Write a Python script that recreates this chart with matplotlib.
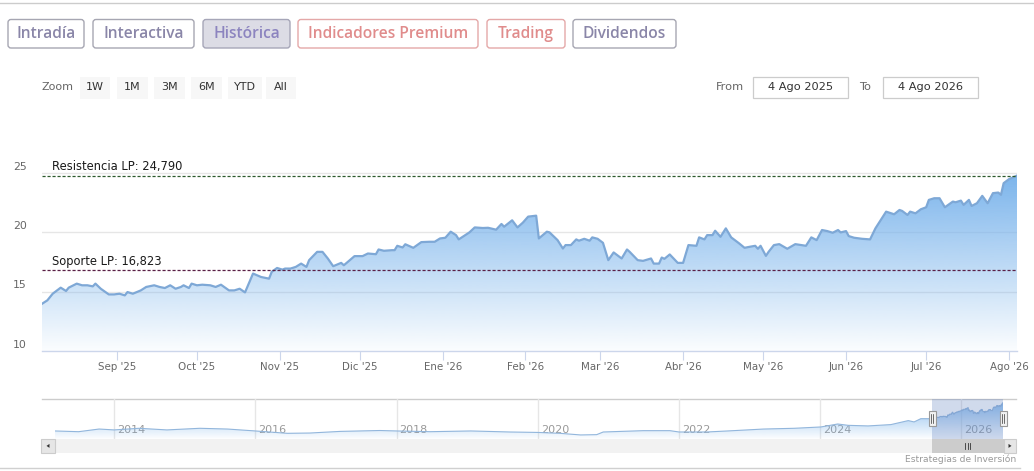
import numpy as np
import pandas as pd
import matplotlib
matplotlib.use("Agg")
import matplotlib.pyplot as plt
import matplotlib.dates as mdates
from matplotlib.patches import FancyBboxPatch, Rectangle, Polygon
from matplotlib.colors import to_rgb

W, H = 1034, 471

# ---------------- data ----------------
START = "2025-08-04"
END = "2026-08-04"
# days since 4 Ago 2025
day_offsets = [
    0, 2, 4, 7, 9, 10, 13, 15, 17, 19,
    20, 22, 25, 27, 29, 31, 32, 34, 37, 39,
    42, 44, 46, 48, 50, 52, 53, 55, 56, 58,
    60, 63, 65, 67, 70, 72, 74, 76, 79, 82,
    85, 86, 88, 90, 91, 93, 95, 97, 99, 100,
    103, 105, 107, 109, 112, 113, 117, 120, 122, 125,
    126, 128, 131, 132, 133, 135, 136, 139, 142, 145,
    147, 149, 151, 153, 155, 156, 160, 162, 165, 167,
    170, 172, 173, 176, 178, 180, 182, 185, 186, 189,
    190, 193, 195, 196, 198, 200, 201, 203, 205, 206,
    208, 210, 212, 214, 217, 219, 220, 223, 225, 228,
    229, 231, 232, 233, 235, 238, 240, 242, 245, 246,
    248, 249, 251, 252, 254, 256, 258, 261, 263, 265,
    267, 268, 269, 271, 272, 274, 276, 279, 282, 286,
    288, 290, 292, 294, 296, 298, 299, 301, 302, 304,
    307, 310, 312, 316, 319, 321, 322, 324, 325, 327,
    329, 331, 332, 334, 336, 338, 341, 342, 344, 345,
    347, 348, 350, 352, 354, 356, 358, 359, 360, 362,
    365,
]
prices = [
    13.98, 14.27, 14.83, 15.34, 15.06, 15.34, 15.68, 15.54, 15.54, 15.45,
    15.68, 15.25, 14.77, 14.77, 14.83, 14.69, 14.97, 14.83, 15.11, 15.40,
    15.54, 15.40, 15.31, 15.54, 15.25, 15.40, 15.54, 15.31, 15.68, 15.54,
    15.59, 15.54, 15.40, 15.59, 15.11, 15.11, 15.25, 14.94, 16.53, 16.24,
    16.10, 16.67, 17.00, 16.86, 16.95, 16.95, 17.09, 17.37, 17.09, 17.66,
    18.36, 18.36, 17.80, 17.15, 17.43, 17.23, 18.00, 18.00, 18.22, 18.16,
    18.56, 18.45, 18.50, 18.50, 18.87, 18.73, 19.00, 18.70, 19.18, 19.21,
    19.21, 19.49, 19.55, 20.06, 19.77, 19.41, 20.00, 20.42, 20.37, 20.39,
    20.23, 20.71, 20.48, 21.02, 20.42, 20.82, 21.33, 21.41, 19.49, 20.06,
    20.00, 19.35, 18.64, 18.93, 18.93, 19.41, 19.30, 19.46, 19.30, 19.58,
    19.46, 19.12, 17.66, 18.31, 17.80, 18.56, 18.36, 17.66, 17.60, 17.80,
    17.37, 17.37, 17.88, 17.77, 18.14, 17.43, 17.43, 18.93, 18.87, 19.58,
    19.41, 19.77, 19.77, 20.14, 19.63, 20.34, 19.58, 19.07, 18.70, 18.79,
    18.87, 18.62, 18.87, 18.02, 18.36, 18.93, 19.01, 18.62, 19.01, 18.87,
    19.58, 19.35, 20.20, 20.11, 19.97, 20.20, 20.00, 20.11, 19.69, 19.55,
    19.46, 19.41, 20.34, 21.75, 21.53, 21.89, 21.81, 21.47, 21.75, 21.61,
    21.95, 22.12, 22.74, 22.88, 22.88, 22.12, 22.60, 22.54, 22.68, 22.32,
    22.74, 22.23, 22.46, 23.08, 22.46, 23.31, 23.36, 23.17, 24.15, 24.49,
    24.79,
]
resistance = 24.790
support = 16.823

hist_dates = [
    "2013-03-01", "2013-07-01", "2013-10-15", "2014-01-01", "2014-05-10",
    "2014-10-01", "2015-03-20", "2015-08-10", "2016-01-01", "2016-06-15",
    "2016-10-10", "2017-03-15", "2017-10-05", "2018-01-01", "2018-06-25",
    "2019-01-20", "2019-08-10", "2020-01-01", "2020-04-25", "2020-08-10",
    "2020-11-01", "2020-12-05", "2021-07-01", "2021-11-15", "2022-01-01",
    "2022-05-25", "2022-09-10", "2023-03-15", "2023-08-20", "2024-01-05",
    "2024-04-01", "2024-05-25", "2024-09-05", "2025-01-01", "2025-04-01",
    "2025-05-01", "2025-06-05",
]
hist_prices = [
    5.7, 5.2, 7.0, 6.4, 7.5, 6.4, 7.5, 7.0, 5.7, 4.1,
    4.3, 5.4, 6.0, 5.7, 5.2, 5.7, 5.0, 4.7, 4.1, 3.0,
    3.2, 5.0, 5.9, 5.9, 5.0, 5.0, 5.7, 7.0, 7.5, 8.4,
    10.4, 9.5, 9.1, 10.0, 12.7, 11.8, 14.0,
]

y_ticks = [10, 15, 20, 25]
month_labels = ["Sep '25", "Oct '25", "Nov '25", "Dic '25", "Ene '26", "Feb '26",
                "Mar '26", "Abr '26", "May '26", "Jun '26", "Jul '26", "Ago '26"]
nav_years = [2014, 2016, 2018, 2020, 2022, 2024, 2026]

tabs = ["Intradía", "Interactiva", "Histórica", "Indicadores Premium", "Trading", "Dividendos"]
zoom_buttons = ["1W", "1M", "3M", "6M", "YTD", "All"]
date_from = "4 Ago 2025"
date_to = "4 Ago 2026"

# ---------------- helpers ----------------
start = pd.Timestamp(START)
main_x = mdates.date2num((start + pd.to_timedelta(day_offsets, unit="D")).to_pydatetime())
main_y = np.array(prices)
x_start = mdates.date2num(start.to_pydatetime())
x_end = mdates.date2num(pd.Timestamp(END).to_pydatetime())

BLUE = "#7cb5ec"


def gradient_area(ax, x, y, base, top, color, amax, amin, zorder):
    poly = ax.fill_between(x, y, base, facecolor="none", edgecolor="none", zorder=zorder)
    path = poly.get_paths()[0]
    rgb = to_rgb(color)
    n = 256
    img = np.zeros((n, 1, 4))
    img[..., 0], img[..., 1], img[..., 2] = rgb
    img[:, 0, 3] = np.linspace(amin, amax, n)
    im = ax.imshow(img, aspect="auto", origin="lower", extent=[x[0], x[-1], base, top],
                   zorder=zorder, interpolation="bilinear")
    im.set_clip_path(path, transform=ax.transData)
    return im


fig = plt.figure(figsize=(W / 100, H / 100), dpi=100)
fig.patch.set_facecolor("white")

# overlay in pixel coordinates
ov = fig.add_axes([0, 0, 1, 1], zorder=0)
ov.set_xlim(0, W)
ov.set_ylim(H, 0)
ov.axis("off")

# top rule
ov.plot([0, W], [3.3, 3.3], color="#cccccc", lw=1)

# tabs
tab_boxes = [(8, 84), (93, 194), (203, 290), (298, 478), (487, 565), (573, 676)]
tab_text = ["#8a86a8", "#8a86a8", "#8c84bf", "#e08c8c", "#e08c8c", "#8a86a8"]
tab_edge = ["#a6a6b2", "#a6a6b2", "#a6a6b8", "#e4a8a8", "#e4a8a8", "#a6a6b2"]
tab_face = ["white", "white", "#dcdce5", "white", "white", "white"]
for lbl, (x0, x1), tc, ec, fc in zip(tabs, tab_boxes, tab_text, tab_edge, tab_face):
    ov.add_patch(FancyBboxPatch((x0, 19.5), x1 - x0, 28.5,
                                boxstyle="round,pad=0,rounding_size=3",
                                fc=fc, ec=ec, lw=1.0))
    ov.text((x0 + x1) / 2, 34.5, lbl, ha="center", va="center", color=tc,
            fontsize=11.2, fontweight="semibold", family="Open Sans")

# zoom row
ov.text(42, 87.5, "Zoom", ha="left", va="center", color="#666666", fontsize=8, family="DejaVu Sans")
zb = [(80, 110), (117, 148), (154, 185), (191, 222), (228, 262), (266, 296)]
for lbl, (x0, x1) in zip(zoom_buttons, zb):
    ov.add_patch(Rectangle((x0, 76.5), x1 - x0, 22, fc="#f7f7f7", ec="none"))
    ov.text((x0 + x1) / 2, 87.5, lbl, ha="center", va="center", color="#333333",
            fontsize=8, family="DejaVu Sans")

# from / to
ov.text(716, 87.5, "From", ha="left", va="center", color="#666666", fontsize=8.2)
ov.add_patch(Rectangle((753, 77), 95, 21, fc="white", ec="#cccccc", lw=0.9))
ov.text(800.5, 87.5, date_from, ha="center", va="center", color="#333333", fontsize=8.2)
ov.text(859, 87.5, "To", ha="left", va="center", color="#666666", fontsize=8.2)
ov.add_patch(Rectangle((883, 77), 95, 21, fc="white", ec="#cccccc", lw=0.9))
ov.text(930.5, 87.5, date_to, ha="center", va="center", color="#333333", fontsize=8.2)

# ---------------- main chart ----------------
Y_BOTTOM, Y_TOP = 10, 26.5
top_px = 351 - (Y_TOP - Y_BOTTOM) * 11.86
ax = fig.add_axes([42 / W, 1 - 351 / H, (1017 - 42) / W, (351 - top_px) / H], zorder=2)
ax.set_facecolor("none")

for v in y_ticks[1:]:
    ax.axhline(v, color="#e6e6e6", lw=1, zorder=1)

gradient_area(ax, main_x, main_y, Y_BOTTOM, main_y.max(), BLUE, 1.0, 0.03, 2)
ax.plot(main_x, main_y, color="#7ea8d6", lw=1.6, zorder=3, solid_joinstyle="round")

ax.axhline(resistance, color="#2d5a2d", lw=0.9, ls=(0, (2.5, 1.5)), zorder=4)
ax.axhline(support, color="#5a1f45", lw=0.9, ls=(0, (2.5, 1.5)), zorder=4)
ax.annotate("Resistencia LP: " + f"{resistance:.3f}".replace(".", ","),
            xy=(0, resistance), xycoords=("axes fraction", "data"),
            xytext=(10, 2.5), textcoords="offset pixels", ha="left", va="bottom",
            fontsize=8.3, color="#1a1a1a")
ax.annotate("Soporte LP: " + f"{support:.3f}".replace(".", ","),
            xy=(0, support), xycoords=("axes fraction", "data"),
            xytext=(10, 2.5), textcoords="offset pixels", ha="left", va="bottom",
            fontsize=8.3, color="#1a1a1a")

for v in y_ticks:
    ax.annotate(str(v), xy=(0, v), xycoords=("axes fraction", "data"),
                xytext=(-15, 6.5), textcoords="offset pixels", ha="right", va="center",
                fontsize=7.8, color="#666666", annotation_clip=False)

ax.set_xlim(x_start, x_end)
ax.set_ylim(Y_BOTTOM, Y_TOP)
month_pos = mdates.date2num(pd.date_range("2025-09-01", periods=len(month_labels), freq="MS").to_pydatetime())
ax.set_xticks(month_pos)
ax.set_xticklabels(month_labels)
ax.set_yticks([])
ax.tick_params(axis="x", length=6.5, width=0.8, color="#ccd6eb", labelsize=7.4,
               labelcolor="#666666", pad=1.5)
for s in ["top", "right", "left"]:
    ax.spines[s].set_visible(False)
ax.spines["bottom"].set_color("#ccd6eb")
ax.spines["bottom"].set_linewidth(1)

# ---------------- navigator ----------------
nav_x = np.concatenate([mdates.date2num(pd.to_datetime(hist_dates).to_pydatetime()), main_x])
nav_y = np.concatenate([np.array(hist_prices), main_y])
NAV_TOP, NAV_BOT = 398.7, 438.5
nav = fig.add_axes([55 / W, 1 - NAV_BOT / H, (1003 - 55) / W, (NAV_BOT - NAV_TOP) / H], zorder=2)
nav.set_facecolor("none")
nav.set_xlim(nav_x[0], nav_x[-1])
nav.set_ylim(0.6, 27.5)
nav.axis("off")

for yr in nav_years:
    xp = mdates.date2num(pd.Timestamp(f"{yr}-01-01").to_pydatetime())
    nav.axvline(xp, color="#e6e6e6", lw=1, zorder=1)
    nav.annotate(str(yr), xy=(xp, 0.21), xycoords=("data", "axes fraction"),
                 xytext=(3, 0), textcoords="offset pixels", ha="left", va="center",
                 fontsize=8.0, color="#999999", zorder=2)

gradient_area(nav, nav_x, nav_y, 0.6, nav_y.max(), BLUE, 0.85, 0.02, 3)
nav.plot(nav_x, nav_y, color="#92b6dc", lw=0.8, zorder=4)
nav.axvspan(x_start, x_end, color=(102 / 255, 133 / 255, 194 / 255), alpha=0.3, lw=0, zorder=5)

fig.canvas.draw()
sel0 = nav.transData.transform((x_start, 0))[0]
sel1 = nav.transData.transform((x_end, 0))[0]

# navigator top border
ov.plot([42, 1016], [NAV_TOP, NAV_TOP], color="#cccccc", lw=1)

# scrollbar
ov.add_patch(Rectangle((41, 438.5), 1016 - 41, 14.8, fc="#f2f2f2", ec="none"))
ov.add_patch(Rectangle((sel0, 438.5), (sel1 + 2) - sel0, 14.8, fc="#cccccc", ec="none"))
for gx in (-2.5, 0, 2.5):
    cx = (sel0 + sel1) / 2 + gx
    ov.plot([cx, cx], [442.5, 449], color="#333333", lw=0.6)
ov.add_patch(Rectangle((41, 438.5), 14, 14.8, fc="#e6e6e6", ec="#cccccc", lw=0.8))
ov.add_patch(Polygon([[46.5, 445.9], [49.5, 443.9], [49.5, 447.9]], closed=True, fc="#333333", ec="none"))
ov.add_patch(Rectangle((1003.5, 438.5), 12.5, 14.8, fc="#e6e6e6", ec="#cccccc", lw=0.8))
ov.add_patch(Polygon([[1011.5, 445.9], [1008.5, 443.9], [1008.5, 447.9]], closed=True, fc="#333333", ec="none"))

# handles (draw on top of navigator)
hd = fig.add_axes([0, 0, 1, 1], zorder=3)
hd.set_xlim(0, W)
hd.set_ylim(H, 0)
hd.axis("off")
for hx in (sel0, sel1):
    hd.add_patch(Rectangle((hx - 3.5, 410.5), 7, 15.5, fc="#f2f2f2", ec="#999999", lw=0.8))
    hd.plot([hx - 1, hx - 1], [414, 422.5], color="#333333", lw=0.5)
    hd.plot([hx + 1, hx + 1], [414, 422.5], color="#333333", lw=0.5)

# credits and bottom rule
ov.text(1016, 459, "Estrategias de Inversión", ha="right", va="center", color="#999999", fontsize=6.6)
ov.plot([0, 1020], [467.7, 467.7], color="#d0d0d0", lw=1)

fig.savefig("out.png", dpi=100, facecolor="white")
